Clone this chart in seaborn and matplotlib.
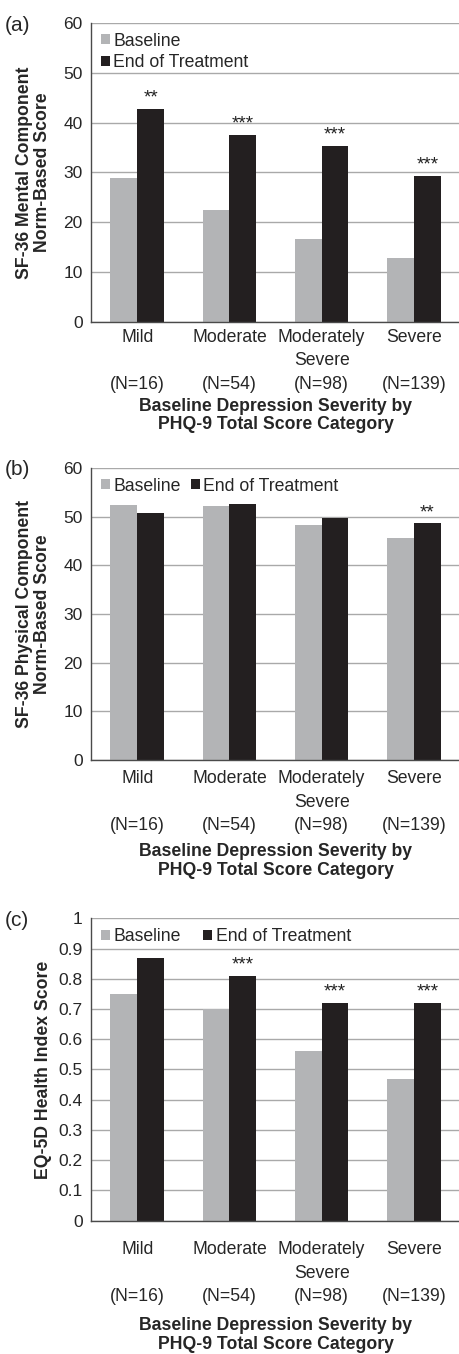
import matplotlib.pyplot as plt
import seaborn as sns
import pandas as pd
from matplotlib.ticker import FixedLocator, NullFormatter, FuncFormatter

# data
categories = ["Mild", "Moderate", "Moderately Severe", "Severe"]
n_labels = ["(N=16)", "(N=54)", "(N=98)", "(N=139)"]
timepoints = ["Baseline", "End of Treatment"]

mcs_baseline = [28.8, 22.5, 16.6, 12.8]
mcs_end = [42.8, 37.6, 35.4, 29.3]
mcs_stars = ["**", "***", "***", "***"]

pcs_baseline = [52.3, 52.1, 48.2, 45.6]
pcs_end = [50.7, 52.5, 49.7, 48.6]
pcs_stars = ["", "", "", "**"]

eq5d_baseline = [0.75, 0.70, 0.56, 0.47]
eq5d_end = [0.87, 0.81, 0.72, 0.72]
eq5d_stars = ["", "***", "***", "***"]

GRAY = "#b3b4b6"
BLACK = "#231f20"
SPINE = "#4a4a4a"
FS = 12.7

sns.set_theme(style="white")
plt.rcParams["font.family"] = ["Liberation Sans", "DejaVu Sans"]
plt.rcParams["font.size"] = FS


def tick_text(name, n):
    lines = name.split(" ")
    while len(lines) < 2:
        lines.append("")
    return "\n".join(lines + [n])


def num(v, p):
    return f"{v:.1f}".rstrip("0").rstrip(".") if 0 < v < 1 else f"{v:g}"


def panel(ax, base, end, stars, ymax, ystep, ylabel, tag, ncol, colspace,
          ypad, tickpad, xpad):
    df = pd.DataFrame({
        "category": categories * 2,
        "timepoint": [timepoints[0]] * 4 + [timepoints[1]] * 4,
        "score": list(base) + list(end),
    })
    sns.barplot(data=df, x="category", y="score", hue="timepoint",
                palette=[GRAY, BLACK], saturation=1, width=0.58,
                errorbar=None, linewidth=0, ax=ax)

    # significance stars over the end-of-treatment bars
    for bar, s in zip(ax.containers[1], stars):
        if s:
            ax.annotate(s, (bar.get_x() + bar.get_width() / 2, bar.get_height()),
                        xytext=(0, 1.5), textcoords="offset points",
                        ha="center", va="bottom", fontsize=13.5, color="#222222")

    ax.set_ylim(0, ymax)
    ax.set_xlim(-0.5, 3.5)
    ticks = [i * ystep for i in range(int(round(ymax / ystep)) + 1)]
    ax.set_yticks(ticks)
    ax.yaxis.set_major_formatter(FuncFormatter(num))
    ax.set_axisbelow(True)
    ax.yaxis.grid(True, color="#a9a9a9", lw=1)
    ax.xaxis.grid(False)

    ax.xaxis.set_major_locator(FixedLocator([-0.5, 0.5, 1.5, 2.5, 3.5]))
    ax.xaxis.set_major_formatter(NullFormatter())
    ax.xaxis.set_minor_locator(FixedLocator(range(4)))
    ax.set_xticklabels([tick_text(c, n) for c, n in zip(categories, n_labels)],
                       minor=True, linespacing=1.5, fontsize=FS)
    ax.tick_params(axis="x", which="minor", length=0, pad=tickpad)
    ax.tick_params(axis="x", which="major", length=4, width=1, color=SPINE, direction="out")
    ax.tick_params(axis="y", length=4, width=1, color=SPINE, direction="out",
                   pad=2, labelsize=12.5)

    for side in ["top", "right"]:
        ax.spines[side].set_visible(False)
    for side in ["left", "bottom"]:
        ax.spines[side].set_color(SPINE)
        ax.spines[side].set_linewidth(1)

    ax.set_xlabel("Baseline Depression Severity by\nPHQ-9 Total Score Category",
                  fontweight="bold", fontsize=FS, labelpad=xpad, linespacing=1.12)
    ax.set_ylabel(ylabel, fontweight="bold", fontsize=FS, labelpad=ypad, linespacing=1.05)

    handles, labels = ax.get_legend_handles_labels()
    ax.legend(handles, labels, loc="upper left", bbox_to_anchor=(0.0, 1.0),
              ncol=ncol, frameon=False, fontsize=FS, handlelength=0.5,
              handleheight=0.5, handletextpad=0.2, columnspacing=colspace,
              labelspacing=0.25, borderaxespad=0.15)

    pos = ax.get_position()
    ax.figure.text(5 / 460, pos.y1 - 2 / 1354, tag, fontsize=15, ha="left", va="center")


fig = plt.figure(figsize=(4.6, 13.54), dpi=100)
ax_a = fig.add_axes([0.198, 0.7622, 0.802, 0.2208])
ax_b = fig.add_axes([0.198, 0.4387, 0.802, 0.2157])
ax_c = fig.add_axes([0.198, 0.0985, 0.802, 0.2233])

panel(ax_a, mcs_baseline, mcs_end, mcs_stars, 60, 10,
      "SF-36 Mental Component\nNorm-Based Score", "(a)", 1, 0.6, 9, 5, 3.5)
panel(ax_b, pcs_baseline, pcs_end, pcs_stars, 60, 10,
      "SF-36 Physical Component\nNorm-Based Score", "(b)", 2, 0.6, 9, 7.5, 6.5)
panel(ax_c, eq5d_baseline, eq5d_end, eq5d_stars, 1.0, 0.1,
      "EQ-5D Health Index Score", "(c)", 2, 1.3, 5, 15, 8.5)

fig.savefig("out.png", dpi=100)
